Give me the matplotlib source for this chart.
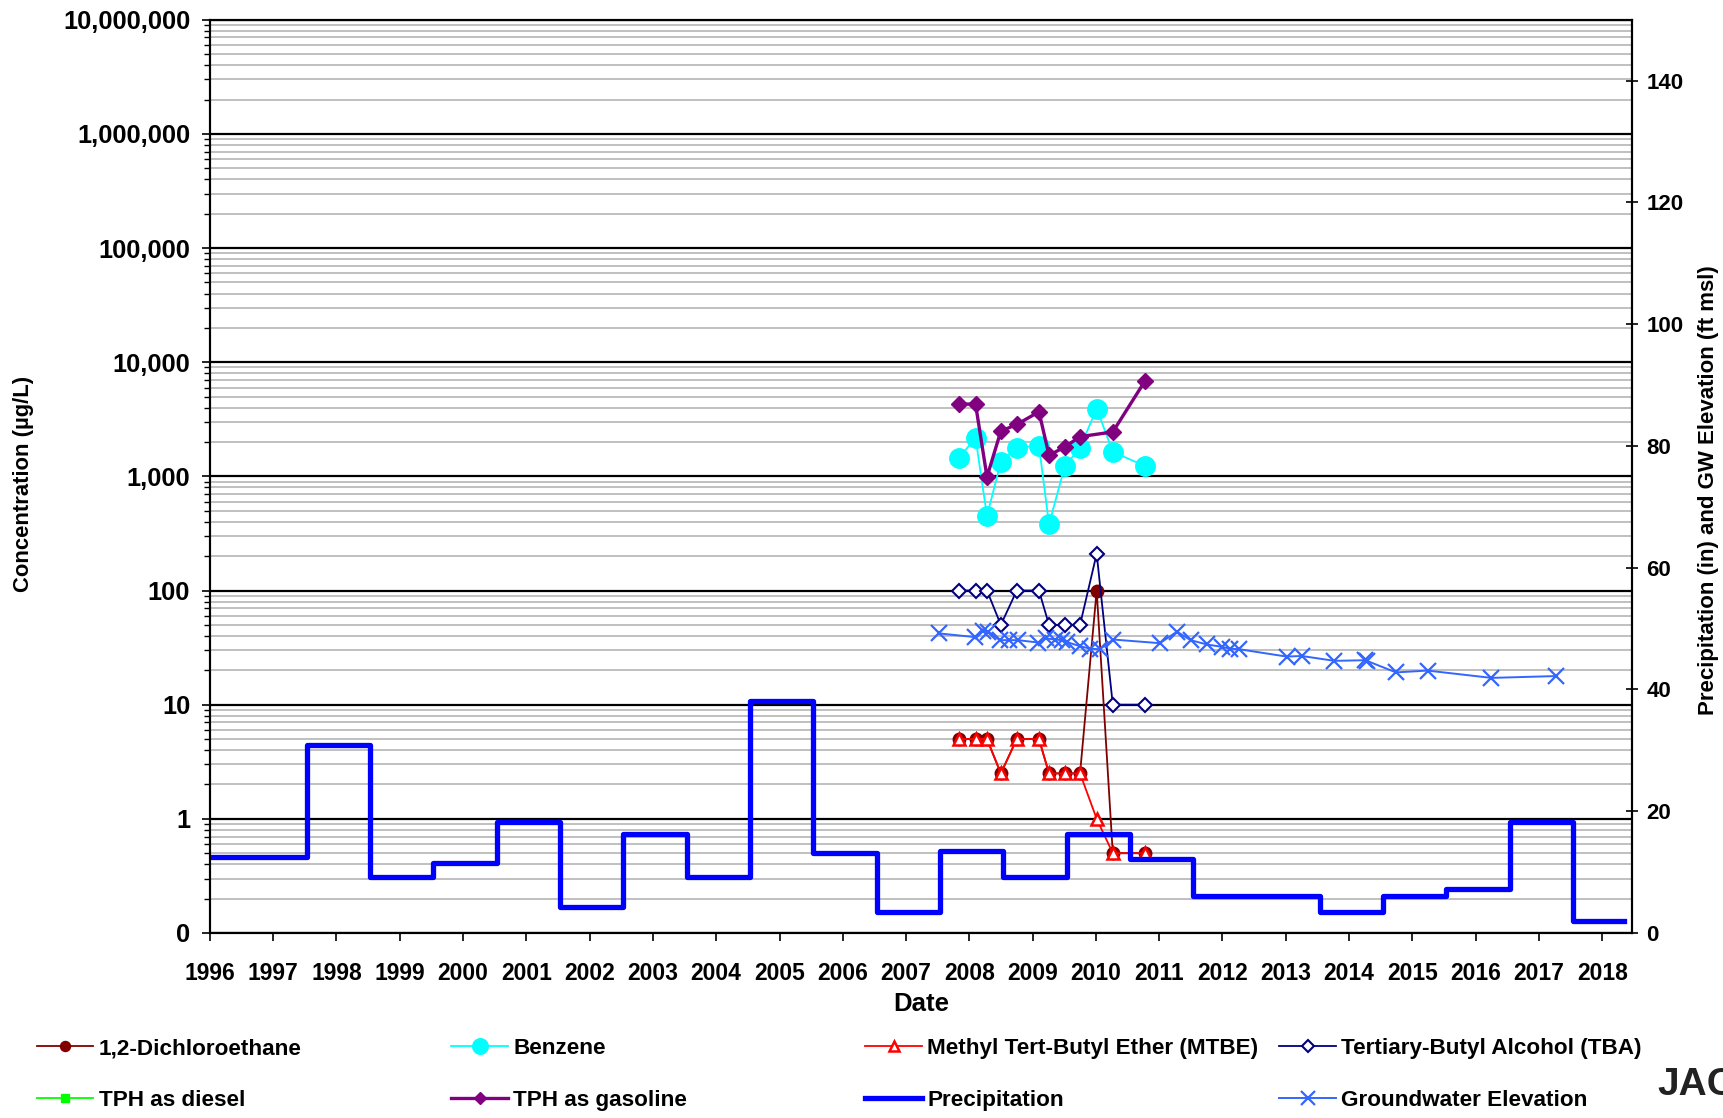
import numpy as np
import pandas as pd
import matplotlib
matplotlib.use('Agg')
import matplotlib.pyplot as plt
import matplotlib.dates as mdates
from matplotlib.ticker import FixedLocator, FuncFormatter, LogLocator, NullFormatter

plt.rcParams['font.family'] = ['Liberation Sans', 'DejaVu Sans']
plt.rcParams['font.weight'] = 'bold'

# sampling dates (quarterly monitoring)
sample_dates = ['2007-11-02', '2008-02-06', '2008-04-12', '2008-07-01', '2008-10-01', '2009-02-06',
                '2009-04-05', '2009-07-05', '2009-10-01', '2010-01-05', '2010-04-08', '2010-10-12']
dca = [5, 5, 5, 2.5, 5, 5, 2.5, 2.5, 2.5, 100, 0.5, 0.5]
benzene = [1450, 2170, 450, 1340, 1780, 1860, 380, 1230, 1780, 3930, 1640, 1230]
mtbe = [5, 5, 5, 2.5, 5, 5, 2.5, 2.5, 2.5, 1, 0.5, 0.5]
tba = [100, 100, 100, 50, 100, 100, 50, 50, 50, 210, 10, 10]

gas_dates = ['2007-11-02', '2008-02-06', '2008-04-12', '2008-07-01', '2008-10-01', '2009-02-06',
             '2009-04-05', '2009-07-05', '2009-10-01', '2010-04-08', '2010-10-12']
tph_gas = [4300, 4300, 990, 2490, 2850, 3680, 1530, 1810, 2230, 2450, 6900]

diesel_dates = []
tph_diesel = []

precip_dates = ['1996-01-01', '1997-07-15', '1998-07-15', '1999-07-15', '2000-07-15', '2001-07-15',
                '2002-07-15', '2003-07-15', '2004-07-15', '2005-07-15', '2006-07-15', '2007-07-15',
                '2008-07-15', '2009-07-15', '2010-07-15', '2011-07-15', '2012-07-15', '2013-07-15',
                '2014-07-15', '2015-07-15', '2016-07-15', '2017-07-15', '2018-05-08']
precip = [12.4, 30.8, 9.2, 11.5, 18.2, 4.3, 16.2, 9.2, 38.1, 13.2, 3.4, 13.5,
          9.2, 16.2, 12.1, 6.1, 6.1, 3.4, 6.1, 7.2, 18.2, 2.0, 2.0]

gw_dates = ['2007-07-12', '2008-02-03', '2008-03-20', '2008-04-20', '2008-06-25', '2008-08-18',
            '2008-10-08', '2009-02-03', '2009-03-17', '2009-05-08', '2009-06-18', '2009-07-16',
            '2009-10-01', '2009-11-28', '2010-01-23', '2010-04-10', '2011-01-05', '2011-04-13',
            '2011-07-01', '2011-10-01', '2011-12-28', '2012-02-14', '2012-04-08', '2013-01-05',
            '2013-04-02', '2013-10-08', '2014-04-02', '2014-04-13', '2014-09-28', '2015-03-29',
            '2016-04-01', '2017-04-10']
gw_elev = [49.2, 48.6, 49.6, 49.5, 48.1, 48.1, 48.1, 47.7, 48.4, 48.2, 48.1, 47.8,
           47.1, 46.7, 46.6, 48.2, 47.6, 49.5, 48.1, 47.4, 47.0, 46.7, 46.6, 45.4,
           45.5, 44.7, 44.8, 44.7, 42.8, 43.1, 41.9, 42.2]

sd = pd.to_datetime(sample_dates)

fig = plt.figure(figsize=(17.23, 11.18), dpi=100)
ax = fig.add_axes([0.1217, 0.1655, 0.8255, 0.8168])

ax.plot(sd, dca, color='#800000', lw=1.3, marker='o', ms=9, mfc='#800000', mec='#800000',
        label='1,2-Dichloroethane', zorder=3)
ax.plot(sd, benzene, color='#00FFFF', lw=1.3, marker='o', ms=14, mfc='#00FFFF', mec='#00FFFF',
        label='Benzene', zorder=3)
ax.plot(sd, mtbe, color='#FF0000', lw=1.3, marker='^', ms=9, mfc='white', mec='#FF0000', mew=1.8,
        label='Methyl Tert-Butyl Ether (MTBE)', zorder=4)
ax.plot(sd, tba, color='#000080', lw=1.3, marker='D', ms=7.5, mfc='white', mec='#000080', mew=1.5,
        label='Tertiary-Butyl Alcohol (TBA)', zorder=4)
ax.plot(pd.to_datetime(diesel_dates), tph_diesel, color='#00FF00', lw=1.3, marker='s', ms=8,
        label='TPH as diesel')
ax.plot(pd.to_datetime(gas_dates), tph_gas, color='#800080', lw=2.4, marker='D', ms=8,
        label='TPH as gasoline', zorder=4)

ax.set_yscale('log')
ax.set_ylim(0.1, 1e7)
ax.set_xlim(pd.Timestamp('1996-01-01'), pd.Timestamp('2018-06-21'))
ax.yaxis.set_major_locator(LogLocator(base=10, numticks=20))
ax.yaxis.set_minor_locator(LogLocator(base=10, subs=np.arange(2, 10), numticks=20))
ax.yaxis.set_major_formatter(FuncFormatter(lambda v, p: '0' if v < 1 else f'{v:,.0f}'))
ax.yaxis.set_minor_formatter(NullFormatter())
ax.grid(True, which='minor', axis='y', color='#c0c0c0', lw=1.4, zorder=0)
ax.grid(True, which='major', axis='y', color='black', lw=1.6, zorder=0)
ax.set_axisbelow(True)

ax.xaxis.set_major_locator(mdates.YearLocator())
ax.xaxis.set_major_formatter(mdates.DateFormatter('%Y'))
ax.tick_params(axis='x', which='major', direction='out', length=6, width=1.2, pad=15, labelsize=16.5)
ax.tick_params(axis='y', which='major', direction='out', length=6, width=1.2, pad=8, labelsize=18.3)
ax.tick_params(axis='y', which='minor', direction='out', length=4, width=1.0)
for s in ax.spines.values():
    s.set_linewidth(1.5)

ax.set_xlabel('Date', fontsize=18.5, fontweight='bold')
ax.xaxis.set_label_coords(0.5, -0.0646)
ax.set_ylabel('Concentration (µg/L)', fontsize=15.8, fontweight='bold')
ax.yaxis.set_label_coords(-0.1235, 0.492)

ax2 = ax.twinx()
ax2.plot(pd.to_datetime(precip_dates), precip, color='#0000FF', lw=3.8, drawstyle='steps-post',
         label='Precipitation', zorder=2)
ax2.plot(pd.to_datetime(gw_dates), gw_elev, color='#3366FF', lw=1.4, marker='x', ms=12, mew=1.6,
         label='Groundwater Elevation', zorder=3)
ax2.set_ylim(0, 150)
ax2.yaxis.set_major_locator(FixedLocator(np.arange(0, 141, 20)))
ax2.tick_params(axis='y', direction='inout', length=9, width=1.2, pad=6, labelsize=16)
ax2.set_ylabel('Precipitation (in) and GW Elevation (ft msl)', fontsize=16, fontweight='bold')
ax2.yaxis.set_label_coords(1.0464, 0.485)
for s in ax2.spines.values():
    s.set_linewidth(1.5)

# legend: four columns of two rows
h1, l1 = ax.get_legend_handles_labels()
h2, l2 = ax2.get_legend_handles_labels()
hd = dict(zip(l1 + l2, h1 + h2))
columns = [['1,2-Dichloroethane', 'TPH as diesel'],
           ['Benzene', 'TPH as gasoline'],
           ['Methyl Tert-Butyl Ether (MTBE)', 'Precipitation'],
           ['Tertiary-Butyl Alcohol (TBA)', 'Groundwater Elevation']]
col_x = [0.0215, 0.262, 0.5023, 0.7426]
for cx, names in zip(col_x, columns):
    leg = fig.legend([hd[n] for n in names], names, loc='upper left', bbox_to_anchor=(cx, 0.0715),
                     frameon=False, fontsize=16.2, handlelength=2.5, handletextpad=0.25,
                     labelspacing=1.38, borderaxespad=0, borderpad=0, markerscale=0.8)
    for t in leg.get_texts():
        t.set_fontweight('bold')

fig.text(0.962, 0.0295, 'JACOBS', fontsize=28, fontweight='bold', color='#222222',
         ha='left', va='center')

fig.savefig('out.png', dpi=100)
